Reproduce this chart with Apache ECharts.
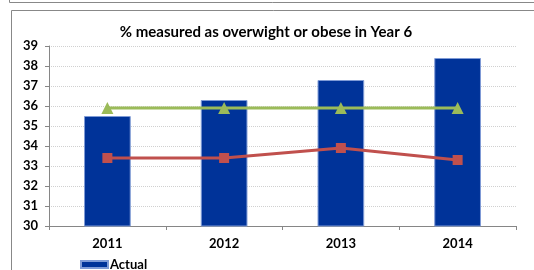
<!DOCTYPE html>
<html>
<head>
<meta charset="utf-8">
<script src="https://cdn.jsdelivr.net/npm/echarts@6/dist/echarts.min.js"></script>
<style>
  html, body { margin: 0; padding: 0; background: #fff; }
  #chart { width: 534px; height: 270px; }
</style>
</head>
<body>
<div id="chart"></div>
<script>
  // data
  var years = ['2011', '2012', '2013', '2014'];
  var actual = [35.5, 36.3, 37.3, 38.4];
  var greenLine = [35.9, 35.9, 35.9, 35.9];
  var redLine = [33.4, 33.4, 33.9, 33.3];
  var yMin = 30, yMax = 39;

  var font = 'Lato, "Open Sans", sans-serif';

  var option = {
    animation: false,
    title: {
      text: '% measured as overwight or obese in Year 6',
      left: 261,
      textAlign: 'center',
      top: 20,
      textStyle: { fontFamily: font, fontSize: 15, fontWeight: 'bold', color: '#000' }
    },
    legend: {
      data: ['Actual'],
      left: 80,
      top: 258,
      padding: 0,
      itemWidth: 27,
      itemHeight: 7,
      itemGap: 2,
      icon: 'rect',
      textStyle: { fontFamily: font, fontSize: 13, fontWeight: 'bold', color: '#000', padding: [0, 0, 0, -3] }
    },
    grid: { left: 49, right: 18, top: 46, bottom: 44 },
    xAxis: {
      type: 'category',
      data: years,
      axisLine: { lineStyle: { color: '#868686' } },
      axisTick: { show: true, length: 4, lineStyle: { color: '#868686' } },
      axisLabel: { fontFamily: font, fontSize: 13, fontWeight: 'bold', color: '#000', margin: 11 }
    },
    yAxis: {
      type: 'value',
      min: yMin,
      max: yMax,
      interval: 1,
      axisLine: { show: true, lineStyle: { color: '#868686' } },
      axisTick: { show: true, length: 4, lineStyle: { color: '#868686' } },
      axisLabel: { fontFamily: font, fontSize: 13, fontWeight: 'bold', color: '#000', margin: 11 },
      splitLine: { lineStyle: { color: '#d0d0d0', type: 'dotted' } }
    },
    graphic: [
      { type: 'rect', shape: { x: 9.5, y: -5, width: 600, height: 7.5 }, style: { fill: 'none', stroke: '#888', lineWidth: 1 } },
      { type: 'rect', shape: { x: 11.5, y: 10.5, width: 600, height: 300 }, style: { fill: 'none', stroke: '#888', lineWidth: 1 } }
    ],
    series: [
      {
        name: 'Actual',
        type: 'bar',
        data: actual,
        barWidth: '40%',
        itemStyle: { color: '#003399', borderColor: '#7f9bd6', borderWidth: 1 }
      },
      {
        name: 'Target',
        type: 'line',
        data: greenLine,
        symbol: 'triangle',
        symbolSize: 12,
        lineStyle: { color: '#9bbb59', width: 3 },
        itemStyle: { color: '#9bbb59' }
      },
      {
        name: 'Comparator',
        type: 'line',
        data: redLine,
        symbol: 'rect',
        symbolSize: 10,
        lineStyle: { color: '#c0504d', width: 3 },
        itemStyle: { color: '#c0504d' }
      }
    ]
  };

  var myChart = echarts.init(document.getElementById('chart'));
  myChart.setOption(option);
</script>
</body>
</html>
